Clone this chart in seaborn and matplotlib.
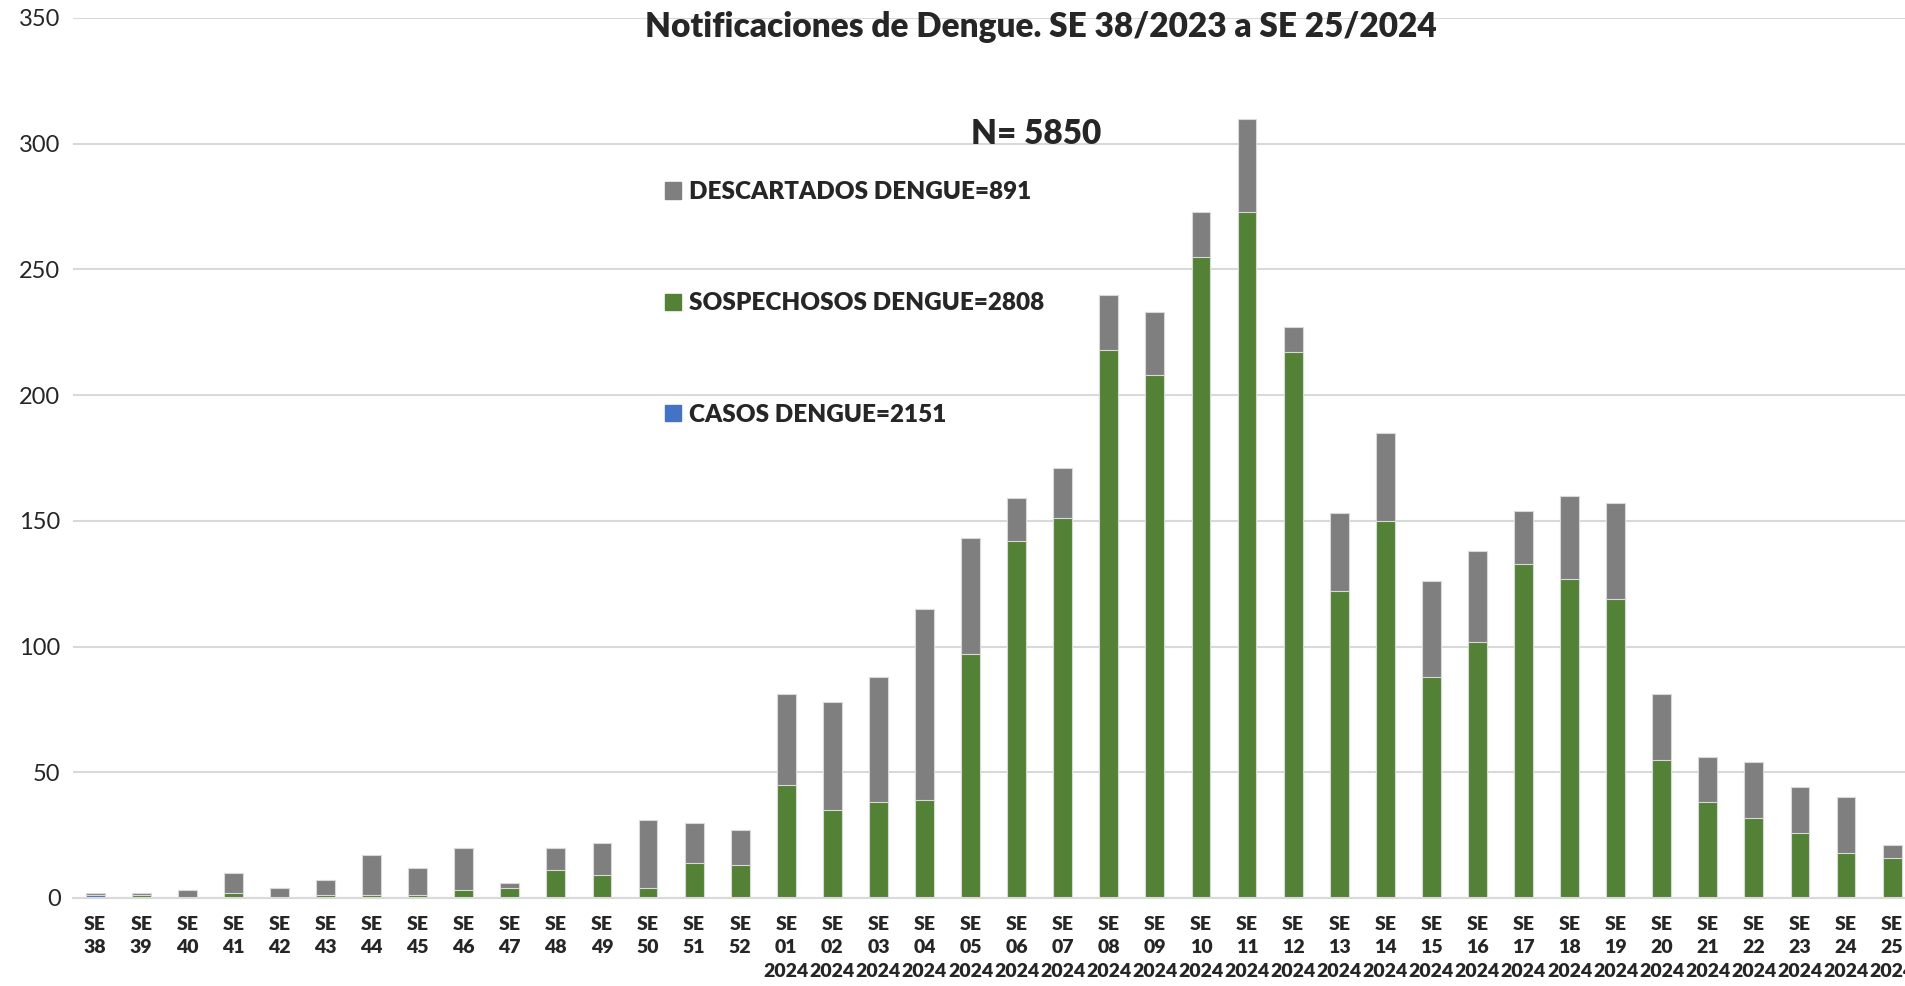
import pandas as pd
import matplotlib.pyplot as plt
import seaborn as sns
from matplotlib.patches import Patch

weeks_2023 = ['38', '39', '40', '41', '42', '43', '44', '45', '46', '47', '48', '49', '50', '51', '52']
weeks_2024 = ['01', '02', '03', '04', '05', '06', '07', '08', '09', '10', '11', '12', '13',
              '14', '15', '16', '17', '18', '19', '20', '21', '22', '23', '24', '25']

casos = [1, 0, 0, 0, 0, 0, 0, 0, 0, 0, 0, 0, 0, 0, 0,
         0, 0, 0, 0, 0, 0, 0, 0, 0, 0, 0, 0, 0, 0, 0, 0, 0, 0, 0, 0, 0, 0, 0, 0, 0]
sospechosos = [0, 1, 0, 2, 0, 1, 1, 1, 3, 4, 11, 9, 4, 14, 13,
               45, 35, 38, 39, 97, 142, 151, 218, 208, 255, 273, 217, 122, 150, 88, 102, 133,
               127, 119, 55, 38, 32, 26, 18, 16]
descartados = [1, 1, 3, 8, 4, 6, 16, 11, 17, 2, 9, 13, 27, 16, 14,
               36, 43, 50, 76, 46, 17, 20, 22, 25, 18, 37, 10, 31, 35, 38, 36, 21,
               33, 38, 26, 18, 22, 18, 22, 5]

labels = ['SE\n' + w for w in weeks_2023] + ['SE\n' + w + '\n2024' for w in weeks_2024]

df = pd.DataFrame({'semana': labels, 'casos': casos,
                   'sospechosos': sospechosos, 'descartados': descartados})
df['sosp_top'] = df['casos'] + df['sospechosos']
df['total'] = df['sosp_top'] + df['descartados']

sns.set_style('white')
plt.rcParams['font.family'] = ['Lato', 'DejaVu Sans']

fig = plt.figure(figsize=(19.05, 9.86), dpi=100)
ax = fig.add_axes([73 / 1905, 1 - 898 / 986, 1 - 73 / 1905, (898 - 18) / 986])

bar_kw = dict(x='semana', order=labels, width=0.41, edgecolor='#d9d9d9', linewidth=0.8, ax=ax)
sns.barplot(data=df, y='total', color='#7f7f7f', saturation=1, **bar_kw)
sns.barplot(data=df, y='sosp_top', color='#538135', saturation=1, **bar_kw)
sns.barplot(data=df, y='casos', color='#4472c4', saturation=1, **bar_kw)

ax.set_ylim(0, 350)
ax.set_xlim(-0.48, 39.28)
ax.set_yticks(range(0, 351, 50))
ax.yaxis.grid(True, color='#d9d9d9', linewidth=1.5)
ax.set_axisbelow(True)
for s in ['top', 'right', 'left']:
    ax.spines[s].set_visible(False)
ax.spines['bottom'].set_color('#d9d9d9')
ax.spines['bottom'].set_linewidth(1.5)
ax.set_xlabel('')
ax.set_ylabel('')
ax.tick_params(axis='y', length=0, pad=9, labelsize=17)
ax.tick_params(axis='x', length=0, pad=13, labelsize=14)
for t in ax.get_xticklabels():
    t.set_fontweight('heavy')
    t.set_linespacing(1.45)

fig.text(1041 / 1905, 1 - 27 / 986, 'Notificaciones de Dengue. SE 38/2023 a SE 25/2024',
         ha='center', va='center', fontsize=24, fontweight='heavy')
fig.text(1036 / 1905, 1 - 134 / 986, 'N= 5850',
         ha='center', va='center', fontsize=24, fontweight='heavy')

handles = [Patch(color='#7f7f7f'), Patch(color='#538135'), Patch(color='#4472c4')]
names = ['DESCARTADOS DENGUE=891', 'SOSPECHOSOS DENGUE=2808', 'CASOS DENGUE=2151']
fig.legend(handles, names, loc='upper left', bbox_to_anchor=(665 / 1905, 1 - 181 / 986),
           frameon=False, prop={'weight': 'heavy', 'size': 17.5}, labelspacing=3.68,
           handlelength=0.65, handleheight=0.65, handletextpad=0.35,
           borderpad=0, borderaxespad=0)

plt.savefig('out.png', dpi=100)
